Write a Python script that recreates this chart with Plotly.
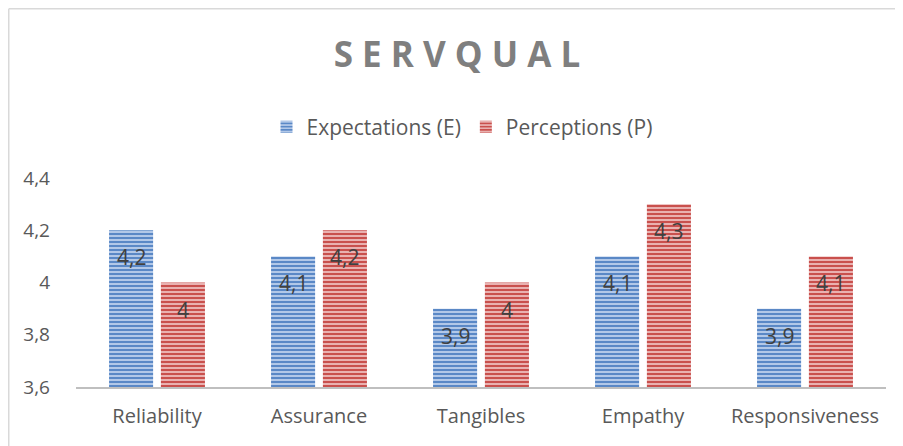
import plotly.graph_objects as go

categories = ["Reliability", "Assurance", "Tangibles", "Empathy", "Responsiveness"]
expectations = [4.2, 4.1, 3.9, 4.1, 3.9]
perceptions = [4.0, 4.2, 4.0, 4.3, 4.1]
series_names = ["Expectations (E)", "Perceptions (P)"]

def lab(v):
    return ("%g" % v).replace(".", ",")

OFF = 8  # page body margin
W, H = 903 - OFF, 446 - OFF
L, R, T, B = 76 - OFF, 17, 178 - OFF, 59
pw, ph = W - L - R, H - T - B

def px_x(p):
    return (p - OFF - L) / pw
def px_y(p):
    return (H - B - (p - OFF)) / ph

BARGAP, GROUPGAP = 0.36, 0.15
slot = pw / len(categories) * (1 - BARGAP) / 2

FONT = "Open Sans, sans-serif"
fig = go.Figure()
series = [
    (series_names[0], expectations, "#5A88C6", "#BCD0EC"),
    (series_names[1], perceptions, "#C9504D", "#EDBCBB"),
]
for i, (name, vals, bg, fg) in enumerate(series):
    fig.add_trace(go.Bar(
        x=categories, y=vals, name=name,
        marker=dict(color=bg, line=dict(width=0),
                    pattern=dict(shape="-", bgcolor=bg, fgcolor=fg,
                                 size=4, solidity=0.45, fillmode="replace")),
    ))
    shift = (i - 0.5) * slot
    for c, v in zip(categories, vals):
        fig.add_annotation(x=c, y=v, text=lab(v), showarrow=False,
                           xshift=shift, yshift=-27, yanchor="middle",
                           xanchor="center",
                           font=dict(size=21, color="#404040", family=FONT))

# chart border (top and left edges visible)
fig.add_shape(type="line", xref="paper", yref="paper",
              x0=(0.75 - L) / pw, x1=(W + 5 - L) / pw,
              y0=(H - B - 0.75) / ph, y1=(H - B - 0.75) / ph,
              line=dict(color="#D9D9D9", width=1.5))
fig.add_shape(type="line", xref="paper", yref="paper",
              x0=(0.75 - L) / pw, x1=(0.75 - L) / pw,
              y0=(H - B - 0.75) / ph, y1=-(B + 5) / ph,
              line=dict(color="#D9D9D9", width=1.5))

title_text = " ".join("SERVQUAL")
fig.update_layout(
    width=W, height=H,
    margin=dict(l=L, r=R, t=T, b=B),
    paper_bgcolor="white", plot_bgcolor="white",
    font=dict(family=FONT, size=20, color="#595959"),
    title=dict(text="<b>" + title_text + "</b>", x=(457 - OFF) / W,
               xanchor="center", y=1 - (55 - OFF) / H, yanchor="middle",
               font=dict(size=35, color="#7F7F7F", family=FONT)),
    barmode="group", bargap=BARGAP, bargroupgap=GROUPGAP,
    showlegend=True,
    legend=dict(orientation="h", x=px_x(462), xanchor="center",
                y=px_y(127), yanchor="middle",
                font=dict(size=21, color="#595959", family=FONT),
                traceorder="normal"),
    xaxis=dict(showline=True, linecolor="#BFBFBF", linewidth=2,
               ticks="", ticklabelstandoff=10,
               tickfont=dict(size=20, color="#595959")),
    yaxis=dict(range=[3.6, 4.4], dtick=0.2, tick0=3.6, showgrid=False,
               zeroline=False, showline=False, ticks="",
               tickformat=".1~f", ticklabelstandoff=25,
               tickfont=dict(size=19, color="#595959")),
    separators=", ",
)
fig.write_html("out.html")
